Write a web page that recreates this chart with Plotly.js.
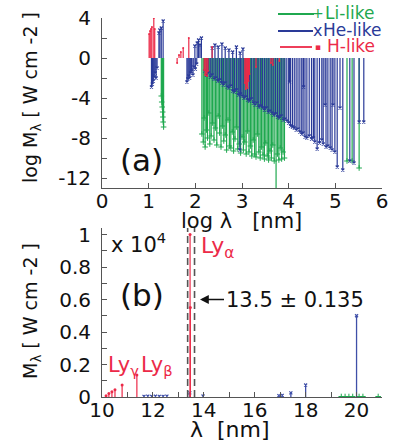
<!DOCTYPE html>
<html><head><meta charset="utf-8">
<script src="https://cdn.plot.ly/plotly-3.0.1.min.js"></script>
<style>html,body{margin:0;padding:0;background:#fff}#chart{width:401px;height:442px}</style>
</head><body><div id="chart"></div>
<script>
// ---------- Panel (a): log10 lambda [nm] vs log10 M ----------
const liLogLam = [1.27,1.28,1.29,1.30,1.305,1.31,1.32,
 2.14,2.17,2.19,2.21,2.24,2.26,2.29,2.31,2.34,2.37,2.40,2.43,2.46,2.49,2.52,2.55,2.58,2.61,2.64,2.67,2.70,2.73,2.76,2.79,2.82,2.85,2.88,2.91,2.94,2.97,3.00,3.03,3.06,3.09,3.12,3.15,3.18,3.21,3.24,3.27,3.30,3.33,3.36,3.39,3.42,3.45,3.48,3.51,3.54,3.57,3.60,3.63,3.66,3.69,3.73,3.76,3.79,3.82,3.85,3.88,3.91,
 5.25,5.36,5.51];
const liLogM = [-3.8,-4.4,-4.9,-5.4,-5.9,-6.4,-6.9,
 -7.6,-8.4,-6.0,-8.9,-7.2,-8.0,-5.5,-8.6,-7.8,-6.5,-8.2,-7.0,-8.7,-5.8,-7.5,-8.9,-6.8,-8.3,-7.7,-9.2,-6.2,-8.8,-9.0,-7.4,-9.3,-8.1,-6.9,-9.1,-8.6,-9.5,-7.9,-9.2,-8.4,-9.6,-7.3,-9.4,-8.8,-9.8,-8.2,-9.6,-9.9,-7.6,-9.4,-10.0,-8.9,-9.7,-10.1,-8.5,-9.8,-10.2,-9.3,-10.0,-8.7,-10.3,-13.4,-9.6,-10.2,-9.0,-10.1,-9.4,-10.0,
 -10.3,-10.3,-11.0];

const heLogLam = [1.06,1.08,1.10,1.12,1.14,1.16,1.18,
 1.22,1.24,1.27,1.31,
 1.82,1.84,1.86,1.88,1.90,1.92,1.95,1.97,2.00,2.03,
 1.99,2.04,2.07,2.10,2.13,
 2.36,2.42,2.49,2.57,2.64,2.72,2.80,2.88,2.96,3.02,
 2.20,2.24,2.28,2.32,2.36,2.40,2.44,2.48,2.52,2.56,2.60,2.64,2.68,2.72,2.76,2.80,2.84,2.88,2.92,2.955,2.97,3.00,3.04,3.08,3.12,3.16,3.20,3.24,3.28,3.32,3.36,3.40,3.44,3.48,3.52,3.56,3.60,3.64,3.68,3.72,3.76,3.80,3.84,3.88,3.92,3.96,
 4.00,4.02,4.04,4.08,4.12,4.16,4.20,4.24,4.28,4.31,4.32,4.35,4.39,4.44,4.49,4.53,4.56,4.61,4.66,4.71,4.74,4.78,4.80,4.84,4.89,4.93,4.95,4.99,5.04,5.10,5.16,5.31,5.40,5.51,5.61];
const heLogM = [-2.9,-2.6,-2.3,-1.9,-1.5,-2.0,-1.0,
 2.5,2.8,3.0,3.7,
 -2.4,-2.1,-1.8,-2.0,-1.5,-1.3,-1.7,-0.9,-1.1,-0.6,
 1.2,1.5,1.8,1.3,2.0,
 1.0,1.3,1.1,1.4,1.0,0.8,0.6,1.1,0.5,0.9,
 -1.3,-1.7,-1.5,-1.9,-1.7,-2.1,-2.0,-2.3,-2.2,-2.5,-2.7,-2.5,-2.9,-3.0,-2.8,-3.3,-3.4,-3.2,-3.7,-9.2,-3.6,-3.8,-4.0,-3.9,-4.2,-4.3,-4.1,-4.5,-4.7,-4.5,-4.9,-4.8,-5.0,-5.2,-5.0,-5.4,-5.3,-5.5,-5.7,-5.6,-5.9,-6.0,-5.8,-6.2,-6.1,-6.3,
 -6.5,-2.4,-6.8,-6.9,-7.0,-7.2,-7.1,-7.4,-7.6,-7.5,-2.9,-7.9,-8.0,-7.8,-8.1,-8.0,-8.4,-9.1,-8.5,-8.2,-8.6,-4.7,-8.9,-8.8,-9.0,-9.2,-4.7,-9.4,-10.9,-5.0,-11.2,-10.3,-10.5,-6.4,-6.4];

const hLogLam = [1.01,1.03,1.05,1.07,1.11,1.13,1.61,1.65,1.69,1.74,1.86,2.19,2.21,2.23,2.25,2.27,2.36,3.06,3.08,3.10,3.12,3.14,3.16,3.30,3.62,3.66,3.80];
const hLogM   = [2.4,2.7,2.9,3.1,4.0,2.9,-0.5,0.3,0.6,1.0,2.0,-1.2,-1.7,-1.5,-1.8,-1.3,1.1,-2.5,-3.1,-2.8,-3.0,-2.3,-1.6,-0.9,-0.5,-0.7,-0.3];

// ---------- Panel (b): lambda [nm] vs M [x 10^4 W cm^-2] ----------
const liLam = [19.4,19.55,19.7,19.85,20.1,20.25,20.85];
const liM   = [0.003,0.003,0.003,0.003,0.003,0.003,0.003];
const heLam = [11.65,11.8,11.95,12.1,12.25,12.4,12.55,13.45,13.97,16.95,17.08,17.42,18.0,20.0];
const heM   = [0.004,0.005,0.004,0.005,0.004,0.004,0.005,0.025,0.006,0.008,0.01,0.025,0.074,0.5];
const hLam  = [10.16,10.27,10.39,10.51,10.79,11.37,13.47,13.46];
const hM    = [0.008,0.022,0.032,0.045,0.074,0.136,0.55,1.0];

const lineCenter = 13.5, lineHalfWidth = 0.135;

const GREEN = '#1fa84f', BLUE = '#2a3a98', RED = '#ec2a48';
const FONT = 'DejaVu Sans';

function stems(xs, ys, color, symbol, msize, mlw, xa, ya, lw) {
  const sx = [], sy = [];
  xs.forEach((x, i) => { sx.push(x, x, null); sy.push(0, ys[i], null); });
  return [
    {x: sx, y: sy, mode: 'lines', line: {color: color, width: lw}, xaxis: xa, yaxis: ya,
     hoverinfo: 'skip', showlegend: false, connectgaps: false},
    {x: xs, y: ys, mode: 'markers', xaxis: xa, yaxis: ya, showlegend: false,
     marker: {color: color, symbol: symbol, size: msize, line: {color: color, width: mlw}}}
  ];
}

const data = [].concat(
  stems(liLogLam, liLogM, GREEN, 'cross-thin-open', 4, 1, 'x', 'y', 1.2),
  stems(heLogLam, heLogM, BLUE, 'x-thin-open', 3, 1.2, 'x', 'y', 1.2),
  stems(hLogLam, hLogM, RED, 'circle', 2, 0, 'x', 'y', 1.2),
  stems(liLam, liM, GREEN, 'cross-thin-open', 4, 1, 'x2', 'y2', 1),
  stems(heLam, heM, '#3f4fa8', 'x-thin-open', 3, 1.2, 'x2', 'y2', 1.3),
  stems(hLam, hM, RED, 'circle', 3, 0, 'x2', 'y2', 1.2)
);

function ticks(lo, hi, step, every, fmt) {
  const vals = [], txt = [];
  const n = Math.round((hi - lo) / step);
  for (let i = 0; i <= n; i++) {
    const v = +(lo + i * step).toFixed(6);
    vals.push(v);
    txt.push(i % every === 0 ? fmt(v) : '');
  }
  return {tickvals: vals, ticktext: txt};
}

const axBase = {
  showline: true, linecolor: '#555', linewidth: 1, ticks: 'inside', ticklen: 5,
  tickcolor: '#555', tickwidth: 1, showgrid: false, zeroline: false,
  tickfont: {family: FONT, size: 20, color: '#111'}, tickmode: 'array', fixedrange: true
};

const L = 102, R = 19, T = 10, B = 45, W = 401, H = 442;
const px2fx = p => (p - L) / (W - L - R);
const py2fy = p => (H - B - p) / (H - T - B);

function note(px, py, text, size, color, extra) {
  return Object.assign({xref: 'paper', yref: 'paper', x: px2fx(px), y: py2fy(py),
    xanchor: 'center', yanchor: 'middle', showarrow: false, text: text,
    font: {family: FONT, size: size, color: color}}, extra || {});
}

const layout = {
  width: W, height: H, margin: {l: L, r: R, t: T, b: B},
  paper_bgcolor: '#fff', plot_bgcolor: '#fff', showlegend: false,
  xaxis: Object.assign({}, axBase, {domain: [0, 1], range: [0, 6], anchor: 'y',
    ticklabelstandoff: -5}, ticks(0, 6, 1, 1, v => String(v))),
  yaxis: Object.assign({}, axBase, {domain: [py2fy(188), py2fy(18)], range: [-13, 4], anchor: 'x',
    ticklabelstandoff: 6}, ticks(-12, 4, 2, 2, v => String(v))),
  xaxis2: Object.assign({}, axBase, {domain: [0, 1], range: [10, 21], anchor: 'y2',
    ticklabelstandoff: -5}, ticks(10, 21, 1, 2, v => String(v))),
  yaxis2: Object.assign({}, axBase, {domain: [0, py2fy(228)], range: [0, 1.04], anchor: 'x2',
    ticklabelstandoff: 6}, ticks(0, 1, 0.1, 2, v => String(v))),
  shapes: [
    {type: 'line', xref: 'x2', yref: 'y2', x0: lineCenter - lineHalfWidth, x1: lineCenter - lineHalfWidth,
     y0: 0, y1: 1.04, line: {color: '#555', width: 1.6, dash: '7px,4px'}},
    {type: 'line', xref: 'x2', yref: 'y2', x0: lineCenter + lineHalfWidth, x1: lineCenter + lineHalfWidth,
     y0: 0, y1: 1.04, line: {color: '#555', width: 1.6, dash: '7px,4px'}},
    {type: 'line', xref: 'paper', yref: 'paper', x0: px2fx(278), x1: px2fx(314), y0: py2fy(14), y1: py2fy(14),
     line: {color: GREEN, width: 1.8}},
    {type: 'line', xref: 'paper', yref: 'paper', x0: px2fx(278), x1: px2fx(313), y0: py2fy(31), y1: py2fy(31),
     line: {color: BLUE, width: 1.8}},
    {type: 'line', xref: 'paper', yref: 'paper', x0: px2fx(280), x1: px2fx(312), y0: py2fy(47), y1: py2fy(47),
     line: {color: RED, width: 1.8}}
  ],
  annotations: [
    // axis titles
    note(31, 98, 'log M<sub>λ</sub> [ W cm -2 ]', 19, '#111', {textangle: -90}),
    note(31, 311, 'M<sub>λ</sub> [ W cm -2 ]', 19, '#111', {textangle: -90}),
    note(241, 221, 'log λ\u00a0\u00a0\u00a0[nm]', 21, '#111'),
    note(230, 429, 'λ\u00a0\u00a0[nm]', 22, '#111'),
    // legend
    note(318, 13, '+', 14, GREEN),
    note(323, 13, 'Li-like', 17, GREEN, {xanchor: 'left'}),
    note(317, 30, 'x', 16, BLUE),
    note(321, 30, 'He-like', 17, BLUE, {xanchor: 'left'}),
    note(318, 47, '▪', 9, RED),
    note(325, 46, 'H-like', 17, RED, {xanchor: 'left'}),
    // panel labels
    {xref: 'x', yref: 'y', x: 0.857, y: -10.2, xanchor: 'center', yanchor: 'middle', showarrow: false,
     text: '(a)', font: {family: FONT, size: 31, color: '#111'}},
    {xref: 'x2', yref: 'y2', x: 11.57, y: 0.63, xanchor: 'center', yanchor: 'middle', showarrow: false,
     text: '(b)', font: {family: FONT, size: 31, color: '#111'}},
    // panel (b) texts
    {xref: 'x2', yref: 'y2', x: 10.28, y: 0.95, xanchor: 'left', yanchor: 'middle', showarrow: false,
     text: 'x 10<sup>4</sup>', font: {family: FONT, size: 21, color: '#111'}},
    {xref: 'x2', yref: 'y2', x: 13.81, y: 0.92, xanchor: 'left', yanchor: 'middle', showarrow: false,
     text: 'Ly<sub>α</sub>', font: {family: FONT, size: 22, color: RED}},
    {xref: 'x2', yref: 'y2', x: 13.85, y: 0.6, ax: 24, ay: 0, xanchor: 'left', yanchor: 'middle', showarrow: true,
     arrowhead: 2, arrowsize: 1.1, arrowwidth: 1.6, arrowcolor: '#111',
     text: '13.5 ± 0.135', font: {family: FONT, size: 21, color: '#111'}},
    {xref: 'x2', yref: 'y2', x: 10.14, y: 0.19, xanchor: 'left', yanchor: 'middle', showarrow: false,
     text: 'Ly<sub>γ</sub>', font: {family: FONT, size: 21, color: RED}},
    {xref: 'x2', yref: 'y2', x: 11.45, y: 0.19, xanchor: 'left', yanchor: 'middle', showarrow: false,
     text: 'Ly<sub>β</sub>', font: {family: FONT, size: 21, color: RED}}
  ]
};

Plotly.newPlot('chart', data, layout, {displayModeBar: false, staticPlot: true});
</script></body></html>
